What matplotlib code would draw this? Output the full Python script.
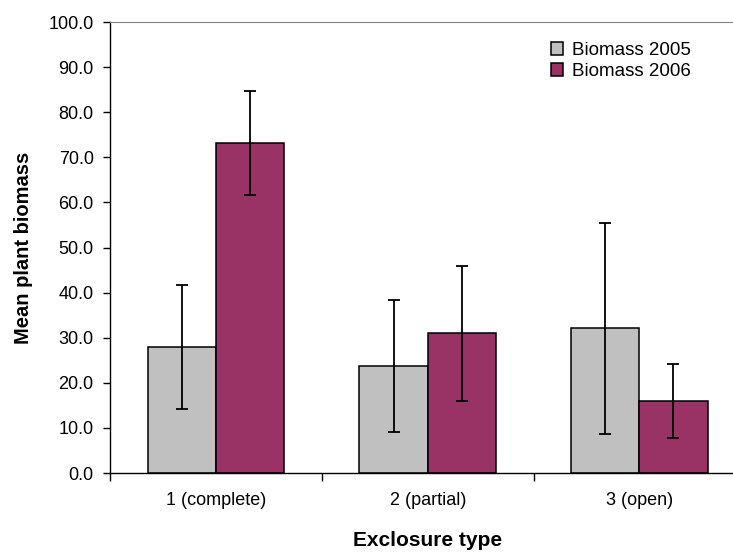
import numpy as np
from matplotlib import pyplot as plt

plt.rcParams['font.family'] = ['Liberation Sans', 'DejaVu Sans']

# data
categories = ['1 (complete)', '2 (partial)', '3 (open)']
biomass_2005 = [27.9, 23.7, 32.1]
err_2005 = [13.8, 14.7, 23.4]
biomass_2006 = [73.2, 31.0, 16.0]
err_2006 = [11.6, 15.0, 8.2]
series_names = ['Biomass 2005', 'Biomass 2006']


def main():
    fig = plt.figure(figsize=(7.33, 5.52), dpi=100)
    ax = fig.add_axes([0.1505, 0.1431, 0.866, 0.817])

    x = np.arange(len(categories))
    w = 0.323
    ekw = dict(ecolor='black', elinewidth=1.3, capsize=4, capthick=1.3)
    ax.bar(x - w / 2, biomass_2005, w, yerr=err_2005, color='#C0C0C0',
           edgecolor='black', linewidth=1.1, label=series_names[0], error_kw=ekw)
    ax.bar(x + w / 2, biomass_2006, w, yerr=err_2006, color='#993366',
           edgecolor='black', linewidth=1.1, label=series_names[1], error_kw=ekw)

    ax.set_xlim(-0.5, 2.5)
    ax.set_ylim(0, 100)
    ax.set_yticks(np.arange(0, 101, 10))
    ax.set_yticklabels(['%.1f' % v for v in np.arange(0, 101, 10)], fontsize=13)
    ax.tick_params(axis='y', direction='out', length=5, width=1, pad=7)

    # boundary ticks major, labels on minor ticks
    ax.set_xticks([-0.5, 0.5, 1.5, 2.5])
    ax.set_xticklabels([])
    ax.tick_params(axis='x', which='major', direction='out', length=6, width=1)
    ax.set_xticks(x, minor=True)
    ax.set_xticklabels(categories, minor=True, fontsize=13)
    ax.tick_params(axis='x', which='minor', length=0, pad=14)

    ax.spines['right'].set_visible(False)
    ax.spines['top'].set_color('#808080')
    ax.spines['left'].set_linewidth(1)
    ax.spines['bottom'].set_linewidth(1)

    ax.set_xlabel('Exclosure type', fontsize=15, fontweight='bold')
    ax.set_ylabel('Mean plant biomass', fontsize=14.5, fontweight='bold')
    ax.xaxis.set_label_coords(0.5 + (427 - 427) / 634.8, -0.1486)
    ax.xaxis.label.set_va('center')
    ax.yaxis.set_label_coords(-0.1375, 0.5)
    ax.yaxis.label.set_va('center')

    ax.legend(loc='upper right', bbox_to_anchor=(0.935, 0.985), frameon=False,
              fontsize=13.5, handlelength=0.65, handleheight=0.65,
              handletextpad=0.45, labelspacing=0.22, borderpad=0.2)

    fig.savefig('out.png', dpi=100)


if __name__ == '__main__':
    main()
